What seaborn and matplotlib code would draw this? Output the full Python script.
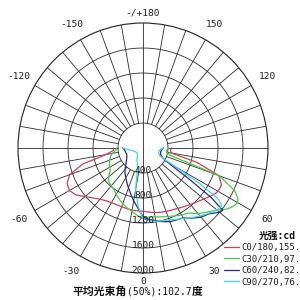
import numpy as np
import pandas as pd
import matplotlib
matplotlib.use("Agg")
import matplotlib.pyplot as plt
import seaborn as sns
from matplotlib.font_manager import FontProperties

# ---------------- data ----------------
angles = [-90, -85, -80, -75, -70, -65, -60, -55, -50, -45, -40, -35, -30, -25, -20, -15, -10, -5, 0,
          5, 10, 15, 20, 25, 30, 35, 40, 45, 50, 52, 54, 56, 58, 60, 62, 65, 70, 75, 80, 85, 90]

c0_180 = [470, 480, 600, 1000, 1250, 1340, 1360, 1310, 1210, 1130, 1070, 1030, 1010, 1000, 1000, 1005, 1010, 1010, 1010,
          1030, 1050, 1065, 1080, 1095, 1115, 1145, 1180, 1220, 1270, 1295, 1320, 1345, 1370, 1385, 1390, 1385, 1290, 900, 460, 440, 460]
c30_210 = [420, 440, 500, 540, 570, 590, 610, 640, 720, 770, 790, 810, 860, 900, 950, 990, 1030, 1080, 1130,
           1110, 1120, 1140, 1165, 1200, 1240, 1270, 1370, 1450, 1550, 1600, 1660, 1700, 1730, 1750, 1720, 1620, 1300, 450, 380, 380, 400]
c60_240 = [330, 300, 290, 285, 280, 285, 300, 320, 350, 390, 450, 500, 550, 610, 680, 760, 860, 960, 1100,
           1150, 1180, 1220, 1255, 1270, 1290, 1370, 1445, 1490, 1600, 1620, 1350, 900, 600, 450, 380, 330, 300, 290, 290, 300, 330]
c90_270 = [330, 250, 200, 170, 150, 140, 130, 125, 125, 130, 140, 160, 190, 230, 260, 340, 680, 930, 1130,
           1170, 1190, 1205, 1225, 1260, 1300, 1360, 1420, 1480, 1540, 1555, 1560, 1440, 1050, 620, 380, 300, 270, 260, 260, 280, 330]

series_names = ["C0/180,155.", "C30/210,97.", "C60/240,82.", "C90/270,76."]
series_values = [c0_180, c30_210, c60_240, c90_270]
series_colors = ["#d23c5a", "#3fd03f", "#2a2a8e", "#3fd8ea"]

ring_values = [400, 800, 1200, 1600, 2000]
ring_labels = ["400", "800", "1200", "1600", "2000"]
angle_label_deg = [-150, -120, -60, -30, 30, 60, 120, 150]
angle_label_txt = ["-150", "-120", "-60", "-30", "30", "60", "120", "150"]

legend_title = "光强:cd"
title_cn1 = "平均光束角"
title_mid = "(50%):102.7"
title_cn2 = "度"

# ---------------- plot ----------------
sns.set_theme(style="white")
plt.rcParams["font.family"] = ["DejaVu Sans Mono", "Noto Sans CJK SC"]

fig = plt.figure(figsize=(3, 3), dpi=100)
ax = fig.add_axes([0.06, 0.09, 0.8333, 0.8333], projection="polar")
ax.set_theta_zero_location("S")
ax.set_theta_direction(1)
ax.set_ylim(0, 2000)
ax.grid(False)
ax.set_xticks([])
ax.set_yticks([])
ax.spines["polar"].set_color("#222222")
ax.spines["polar"].set_linewidth(0.8)

gc = "#2a2a2a"
gl = 0.6
full = np.linspace(0, 2 * np.pi, 361)
for v in ring_values[:-1]:
    ax.plot(full, np.full_like(full, v), color=gc, lw=gl, zorder=1)
for d in range(0, 360, 10):
    t = np.deg2rad(d)
    if d in (0, 180):
        ax.plot([t, t], [0, 2000], color=gc, lw=gl, zorder=1)
    else:
        ax.plot([t, t], [400, 2000], color=gc, lw=gl, zorder=1)

theta = np.deg2rad(np.array(angles, dtype=float))
frames = []
for name, vals in zip(series_names, series_values):
    frames.append(pd.DataFrame({"theta": theta, "r": vals, "series": name}))
df = pd.concat(frames, ignore_index=True)

handles = []
for name, col in zip(series_names, series_colors):
    sub = df[df["series"] == name]
    sns.lineplot(data=sub, x="theta", y="r", ax=ax, color=col, lw=0.9,
                 sort=False, estimator=None, zorder=3)
    handles.append(ax.lines[-1])
ax.set_xlabel("")
ax.set_ylabel("")
if ax.get_legend():
    ax.get_legend().remove()

tc = "#1e1e1e"
fs = 6.8
for v, s in zip(ring_values, ring_labels):
    ax.text(0, v - 40, s, ha="center", va="center", fontsize=fs, color=tc, zorder=4)
for d, s in zip(angle_label_deg, angle_label_txt):
    ax.text(np.deg2rad(d), 2290, s, ha="center", va="center", fontsize=fs, color=tc, clip_on=False)
ax.text(np.pi, 2160, "-/+180", ha="center", va="center", fontsize=fs, color=tc, clip_on=False)
ax.text(0, 2130, "0", ha="center", va="center", fontsize=fs, color=tc, clip_on=False)

leg = fig.legend(handles, series_names, loc="upper left", bbox_to_anchor=(0.745, 0.19),
                 frameon=False, prop=FontProperties(family="DejaVu Sans Mono", size=6.5),
                 handlelength=1.7, handletextpad=0.3, labelspacing=0.28, borderpad=0, borderaxespad=0)
for t in leg.get_texts():
    t.set_color(tc)

fig.text(0.925, 0.215, legend_title, ha="center", va="center", fontsize=7, fontweight="bold",
         color="#111111", family=["DejaVu Sans Mono", "Noto Sans CJK SC"])

t1 = fig.text(0.243, 0.027, title_cn1, ha="left", va="center", fontsize=7.8, fontweight="bold",
              color="#111111", family=["Noto Sans CJK SC"])
a2 = ax.annotate(title_mid, xy=(1, 0.5), xycoords=t1, ha="left", va="center", fontsize=7,
                 color="#111111", family=["DejaVu Sans Mono"], annotation_clip=False)
a3 = ax.annotate(title_cn2, xy=(1, 0.5), xycoords=a2, ha="left", va="center", fontsize=7.8,
                 fontweight="bold", color="#111111", family=["Noto Sans CJK SC"], annotation_clip=False)

fig.savefig("out.png", dpi=100, facecolor="white")
